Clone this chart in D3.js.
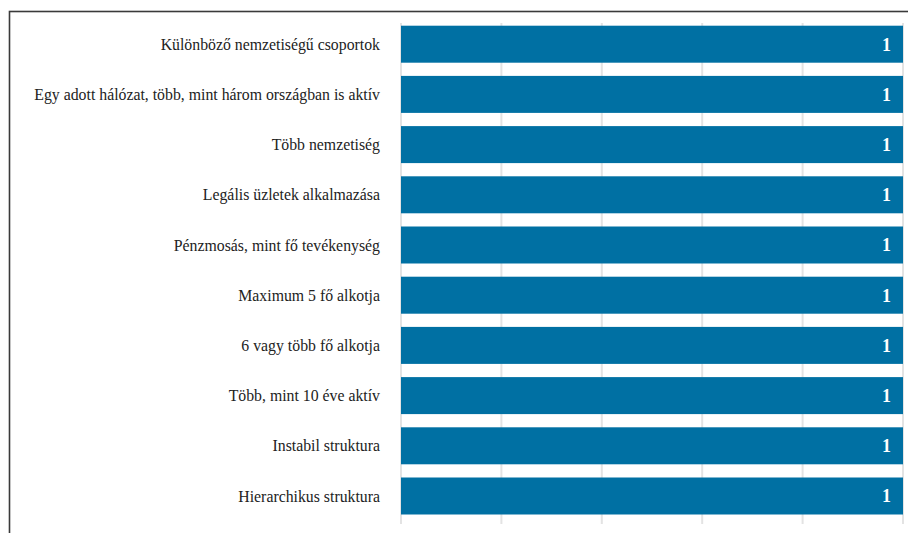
<!DOCTYPE html>
<html>
<head>
<meta charset="utf-8">
<script src="https://cdn.jsdelivr.net/npm/d3@7"></script>
<style>
  html, body { margin: 0; padding: 0; background: #fff; overflow: hidden; }
</style>
</head>
<body>
<svg id="chart" width="908" height="533"></svg>
<script>
const categories = [
  "Különböző nemzetiségű csoportok",
  "Egy adott hálózat, több, mint három országban is aktív",
  "Több nemzetiség",
  "Legális üzletek alkalmazása",
  "Pénzmosás, mint fő tevékenység",
  "Maximum 5 fő alkotja",
  "6 vagy több fő alkotja",
  "Több, mint 10 éve aktív",
  "Instabil struktura",
  "Hierarchikus struktura"
];
const values = [1, 1, 1, 1, 1, 1, 1, 1, 1, 1];
const xTicks = [0, 0.2, 0.4, 0.6, 0.8, 1.0];

const svg = d3.select("#chart");

// frame (cropped chart border)
svg.append("rect")
  .attr("x", 9.5).attr("y", 11.5)
  .attr("width", 1000).attr("height", 1000)
  .attr("fill", "none")
  .attr("stroke", "#3a3a3a")
  .attr("stroke-width", 1.6);

const x = d3.scaleLinear().domain([0, 1]).range([401, 903]);
const y = d3.scaleBand().domain(categories).range([19.1, 521.1])
  .paddingInner(0.263).paddingOuter(0.1315);

// gridlines
svg.append("g").selectAll("line").data(xTicks).join("line")
  .attr("x1", d => x(d)).attr("x2", d => x(d))
  .attr("y1", 23).attr("y2", 524)
  .attr("stroke", "#e3e3e3").attr("stroke-width", 2);

// bars
svg.append("g").selectAll("rect").data(categories).join("rect")
  .attr("x", x(0))
  .attr("y", d => y(d))
  .attr("width", (d, i) => x(values[i]) - x(0))
  .attr("height", y.bandwidth())
  .attr("fill", "#0070a3");

// category labels
svg.append("g").selectAll("text").data(categories).join("text")
  .attr("x", 380)
  .attr("y", d => y(d) + y.bandwidth() / 2)
  .attr("dy", "0.35em")
  .attr("text-anchor", "end")
  .attr("font-family", "'Liberation Serif', 'Times New Roman', serif")
  .attr("font-size", 15.8)
  .attr("fill", "#222")
  .text(d => d);

// value labels
svg.append("g").selectAll("text").data(categories).join("text")
  .attr("x", (d, i) => x(values[i]) - 12)
  .attr("y", d => y(d) + y.bandwidth() / 2)
  .attr("dy", "0.35em")
  .attr("text-anchor", "end")
  .attr("font-family", "'Liberation Serif', 'Times New Roman', serif")
  .attr("font-weight", "bold")
  .attr("font-size", 18)
  .attr("fill", "#fff")
  .text((d, i) => values[i]);
</script>
</body>
</html>
